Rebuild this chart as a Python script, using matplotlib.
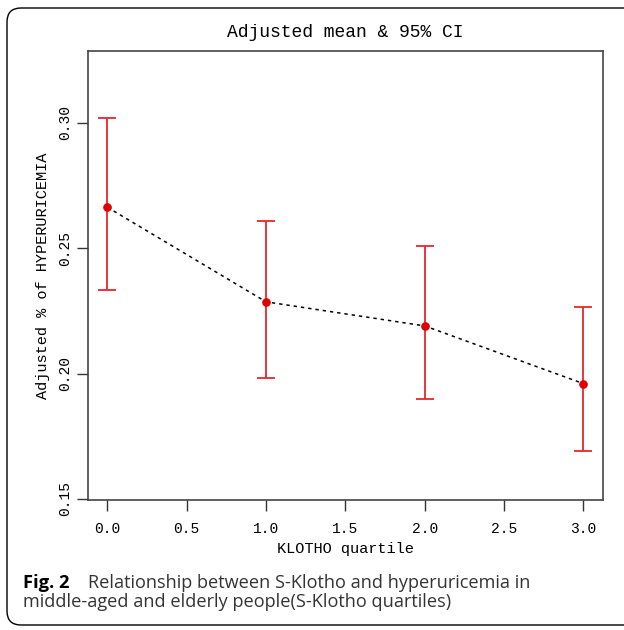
import matplotlib
matplotlib.use("Agg")
import matplotlib.pyplot as plt
from matplotlib.patches import FancyBboxPatch

# Adjusted mean and 95% CI by KLOTHO quartile
quartile = [0, 1, 2, 3]
adj_mean = [0.2663, 0.2286, 0.2190, 0.1960]
ci_low = [0.2333, 0.1983, 0.1899, 0.1690]
ci_high = [0.3020, 0.2610, 0.2509, 0.2265]

x_ticks = [0.0, 0.5, 1.0, 1.5, 2.0, 2.5, 3.0]
y_ticks = [0.15, 0.20, 0.25, 0.30]

title = "Adjusted mean & 95% CI"
x_label = "KLOTHO quartile"
y_label = "Adjusted % of HYPERURICEMIA"
cap_bold = "Fig. 2"
cap_line1 = "Relationship between S-Klotho and hyperuricemia in"
cap_line2 = "middle-aged and elderly people(S-Klotho quartiles)"

W, H = 624, 630
fig = plt.figure(figsize=(W / 100, H / 100), dpi=100)
mono = "Liberation Mono"

# Axes box placed in pixel terms
left, right, top, bottom = 87.5, 602.7, 50.7, 500.0
ax = fig.add_axes([left / W, 1 - bottom / H, (right - left) / W, (bottom - top) / H])

err_lo = [m - l for m, l in zip(adj_mean, ci_low)]
err_hi = [h - m for m, h in zip(adj_mean, ci_high)]
ax.plot(quartile, adj_mean, color="black", lw=1.1, linestyle=(0, (2.2, 2.6)), zorder=2)
ax.errorbar(quartile, adj_mean, yerr=[err_lo, err_hi], fmt="none", ecolor="#e8262d",
            elinewidth=1.3, capsize=6.5, capthick=1.3, zorder=3)
ax.plot(quartile, adj_mean, "o", color="#e00000", markersize=5.2, zorder=4)

ax.set_xlim(-0.125, 3.122)
ax.set_ylim(0.1496, 0.3287)
ax.set_xticks(x_ticks)
ax.set_xticklabels([f"{v:.1f}" for v in x_ticks], family=mono, fontsize=10.5)
ax.set_yticks(y_ticks)
ax.set_yticklabels([f"{v:.2f}" for v in y_ticks], family=mono, fontsize=10.5,
                   rotation=90, va="center")
ax.tick_params(direction="out", length=8, width=1.0, color="#333333", pad=8)
ax.tick_params(axis="y", pad=3)
for sp in ax.spines.values():
    sp.set_color("#444444")
    sp.set_linewidth(1.2)

ax.set_title(title, family=mono, fontsize=13, pad=10)
ax.set_xlabel(x_label, family=mono, fontsize=11, labelpad=4)
ax.set_ylabel(y_label, family=mono, fontsize=11, labelpad=6)

# Outer rounded frame
frame = FancyBboxPatch((7 / 100, 5 / 100), 640 / 100, 617 / 100,
                       boxstyle="round,pad=0,rounding_size=0.14",
                       transform=fig.dpi_scale_trans, fill=False,
                       edgecolor="black", linewidth=1.0)
fig.patches.append(frame)

# Caption
cap_font = "Open Sans"
cap_size = 13.05
y1 = 1 - 588.3 / H
y2 = 1 - 607.3 / H
fig.text(23 / W, y1, cap_bold, family=cap_font, fontweight="bold",
         fontsize=13.2, color="black", va="baseline")
fig.text(87.5 / W, y1, cap_line1, family=cap_font, fontsize=cap_size,
         color="#333333", va="baseline")
fig.text(23 / W, y2, cap_line2, family=cap_font, fontsize=cap_size,
         color="#333333", va="baseline")

fig.savefig("out.png", dpi=100)
